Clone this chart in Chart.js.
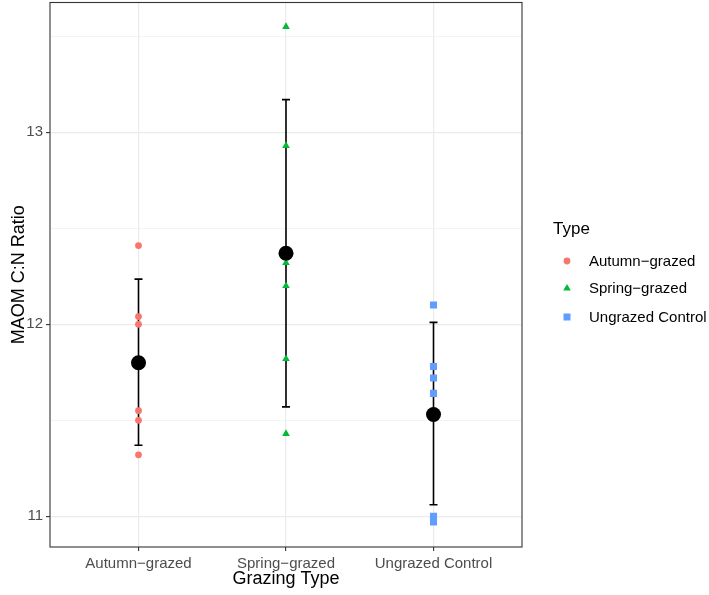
<!DOCTYPE html>
<html><head><meta charset="utf-8">
<script src="https://cdn.jsdelivr.net/npm/chart.js@4.4.0/dist/chart.umd.min.js"></script>
<style>
html,body{margin:0;padding:0;background:#fff;}
#wrap{position:relative;width:709px;height:595px;overflow:hidden;}
#c{position:absolute;left:0;top:0;}
.lg{position:absolute;font-family:"Liberation Sans",Arial,Helvetica,sans-serif;color:#000;white-space:nowrap;}
.lgt{font-size:17px;line-height:17px;}
.lgi{font-size:15px;line-height:15px;}
svg.mk{position:absolute;}
</style></head><body>
<div id="wrap"><canvas id="c" width="709" height="595"></canvas><div id="legend"></div></div>
<script>
// ---- data ----
const categories = ["Autumn\u2212grazed", "Spring\u2212grazed", "Ungrazed Control"];
const autumnValues = [12.41, 12.04, 12.00, 11.55, 11.50, 11.32];
const springValues = [13.55, 12.93, 12.32, 12.20, 11.82, 11.43];
const ungrazedValues = [12.10, 11.78, 11.72, 11.64, 11.00, 10.97];
const meanValues = [11.80, 12.37, 11.53];
const lowerValues = [11.37, 11.57, 11.06];
const upperValues = [12.235, 13.17, 12.01];
const yTickLabels = ["11", "12", "13"];
const legendTitle = "Type";

const FONT = '"Liberation Sans", Arial, Helvetica, sans-serif';
Chart.defaults.font.family = FONT;
// points never need extra room outside the panel (ggplot-like layout)
Chart.ScatterController.prototype.getMaxOverflow = function () { return 0; };

const colors = ["#F8766D", "#00BA38", "#619CFF"];
const styles = ["circle", "triangle", "rect"];
const radii = [3.4, 4.4, 5];
const groupValues = [autumnValues, springValues, ungrazedValues];

const pts = (vals, i) => vals.map(v => ({x: i + 1, y: v}));

const datasets = [{
  label: "mean",
  data: meanValues.map((v, i) => ({x: i + 1, y: v})),
  pointStyle: "circle", pointRadius: 7.5, pointHoverRadius: 7.5,
  backgroundColor: "#000", borderColor: "#000", borderWidth: 0,
  order: 0
}];
groupValues.forEach((vals, i) => {
  datasets.push({
    label: categories[i],
    data: pts(vals, i),
    pointStyle: styles[i], pointRadius: radii[i], pointHoverRadius: radii[i],
    backgroundColor: colors[i], borderColor: colors[i], borderWidth: 0,
    order: 1
  });
});

const panelAndErrorBars = {
  id: "panelAndErrorBars",
  beforeDatasetsDraw(chart) {
    const {ctx, chartArea: a, scales: {x, y}} = chart;
    ctx.save();
    ctx.strokeStyle = "#333333";
    ctx.lineWidth = 1.1;
    ctx.strokeRect(a.left, a.top, a.right - a.left, a.bottom - a.top);
    ctx.strokeStyle = "#000";
    ctx.lineWidth = 1.6;
    ctx.lineCap = "butt";
    meanValues.forEach((m, i) => {
      const px = x.getPixelForValue(i + 1);
      const lo = y.getPixelForValue(lowerValues[i]);
      const hi = y.getPixelForValue(upperValues[i]);
      ctx.beginPath();
      ctx.moveTo(px, lo); ctx.lineTo(px, hi);
      ctx.moveTo(px - 4, lo); ctx.lineTo(px + 4, lo);
      ctx.moveTo(px - 4, hi); ctx.lineTo(px + 4, hi);
      ctx.stroke();
    });
    ctx.restore();
  }
};

const isMajor = v => yTickLabels.includes(String(v));

new Chart(document.getElementById("c"), {
  type: "scatter",
  data: {datasets},
  plugins: [panelAndErrorBars],
  options: {
    responsive: false,
    devicePixelRatio: 1,
    animation: false,
    events: [],
    layout: {padding: {top: 2.5, right: 187, bottom: 0, left: 0}},
    plugins: {legend: {display: false}, tooltip: {enabled: false}},
    scales: {
      x: {
        type: "linear", min: 0.4, max: 3.6,
        afterFit(s) { s.height = 48; s.paddingLeft = 0; s.paddingRight = 0; },
        border: {display: false},
        grid: {color: "#EBEBEB", lineWidth: 1.2, drawTicks: true, tickLength: 4,
               tickColor: "#333333", tickWidth: 1.1},
        ticks: {stepSize: 1, includeBounds: false, autoSkip: false, maxRotation: 0,
                padding: 4, color: "#4D4D4D", font: {size: 15},
                callback: v => categories[Math.round(v) - 1] || ""},
        title: {display: true, text: "Grazing Type", color: "#000",
                font: {size: 18}, padding: {top: 0, bottom: 5}}
      },
      y: {
        type: "linear", min: 10.84, max: 13.676,
        afterFit(s) { s.width = 50; s.paddingTop = 0; s.paddingBottom = 0; },
        border: {display: false},
        grid: {color: "#EBEBEB",
               lineWidth: c => isMajor(c.tick.value) ? 1.2 : 0.6,
               drawTicks: true, tickLength: 4,
               tickColor: c => isMajor(c.tick.value) ? "#333333" : "rgba(0,0,0,0)",
               tickWidth: 1.1},
        ticks: {stepSize: 0.5, includeBounds: false, autoSkip: false, padding: 3,
                color: "#4D4D4D", font: {size: 15},
                callback: v => isMajor(v) ? String(v) : ""},
        title: {display: true, text: "MAOM C:N Ratio", color: "#000",
                font: {size: 18}, padding: {top: 8, bottom: 0}}
      }
    }
  }
});

// ---- legend (HTML text) ----
const lg = document.getElementById("legend");
const t = document.createElement("div");
t.className = "lg lgt"; t.textContent = legendTitle;
t.style.left = "553px"; t.style.top = "220px";
lg.appendChild(t);
const rowY = [261, 288, 316.5];
categories.forEach((c, i) => {
  const s = document.createElementNS("http://www.w3.org/2000/svg", "svg");
  s.setAttribute("class", "mk"); s.setAttribute("width", "14"); s.setAttribute("height", "14");
  s.style.left = (567 - 7) + "px"; s.style.top = (rowY[i] - 7) + "px";
  let shape;
  if (i === 0) { shape = document.createElementNS(s.namespaceURI, "circle");
    shape.setAttribute("cx", 7); shape.setAttribute("cy", 7); shape.setAttribute("r", 3.4); }
  else if (i === 1) { shape = document.createElementNS(s.namespaceURI, "polygon");
    shape.setAttribute("points", "7,3 10.8,9.6 3.2,9.6"); }
  else { shape = document.createElementNS(s.namespaceURI, "rect");
    shape.setAttribute("x", 3.5); shape.setAttribute("y", 3.5); shape.setAttribute("width", 7); shape.setAttribute("height", 7); }
  shape.setAttribute("fill", colors[i]);
  s.appendChild(shape);
  lg.appendChild(s);
  const d = document.createElement("div");
  d.className = "lg lgi"; d.textContent = c;
  d.style.left = "589px"; d.style.top = (rowY[i] - 8) + "px";
  lg.appendChild(d);
});
</script>
</body></html>
